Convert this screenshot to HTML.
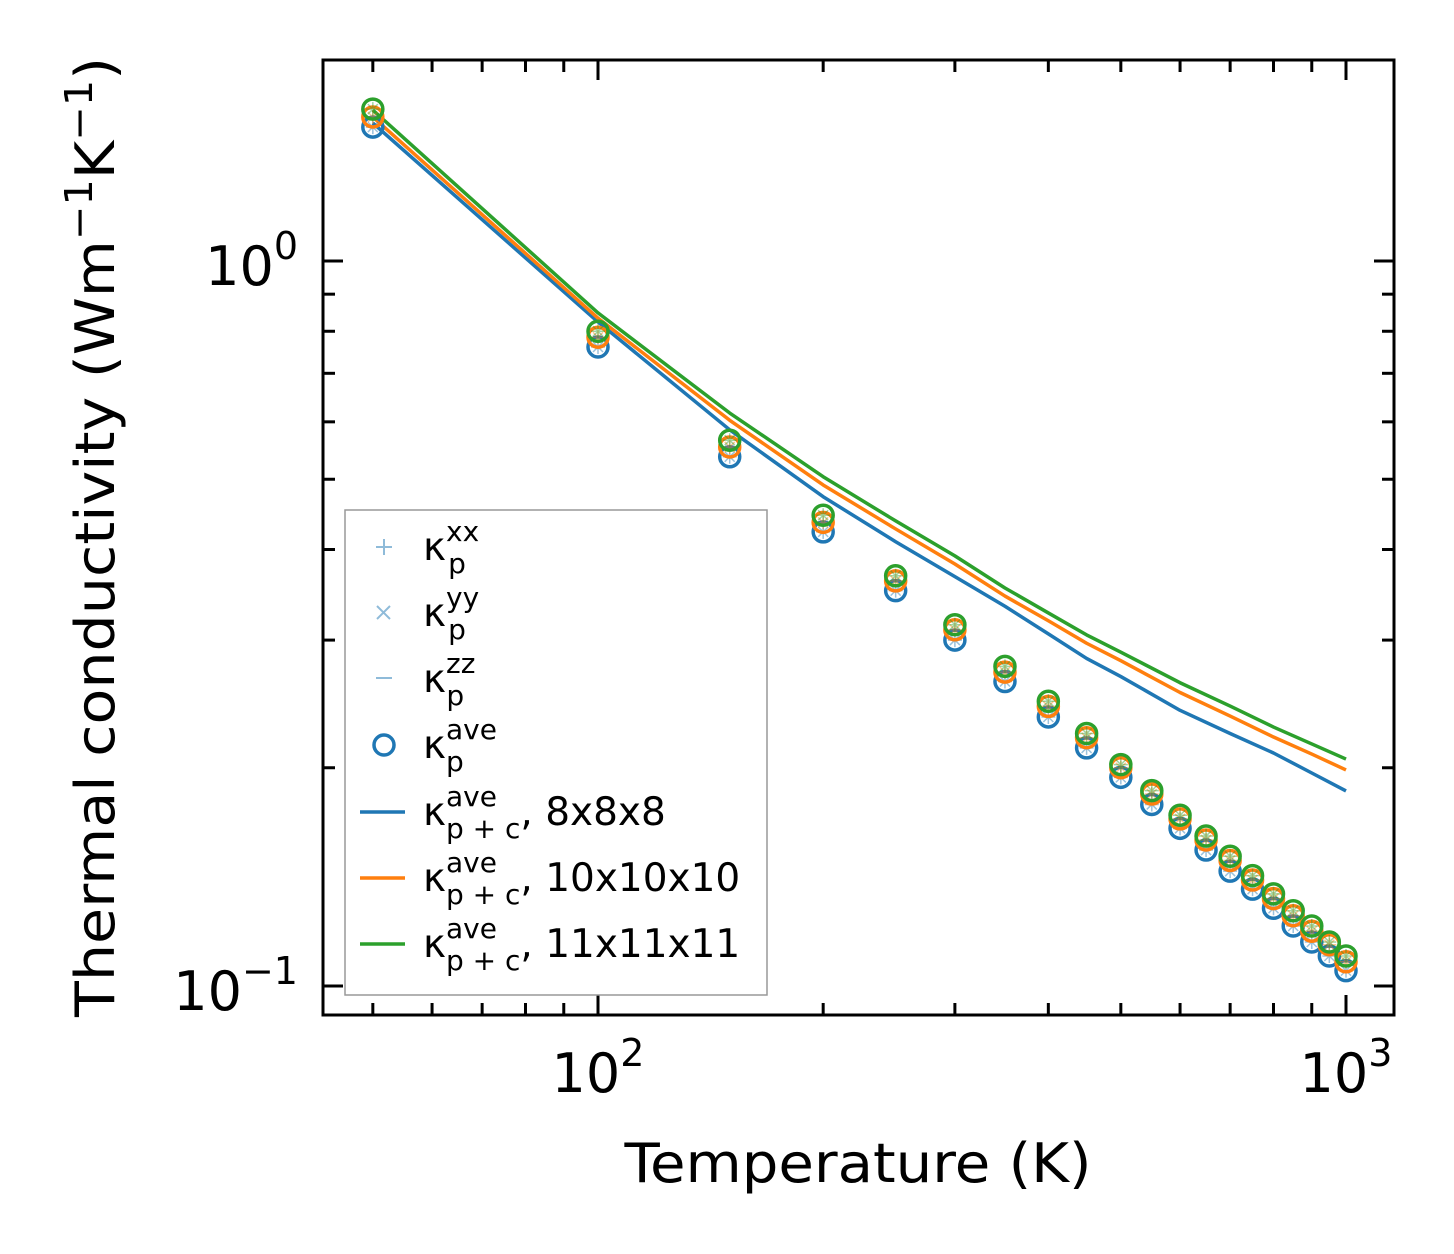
<!DOCTYPE html>
<html><head><meta charset="utf-8"><style>
body{margin:0;background:#fff}
svg{display:block;font-family:"DejaVu Sans","Liberation Sans",sans-serif}
</style></head><body>
<svg id="chart" width="1454" height="1254" viewBox="0 0 1454 1254" xmlns="http://www.w3.org/2000/svg">
<rect width="1454" height="1254" fill="#fff"/>
<g id="marks"></g>
<g id="ticks"></g>
<rect x="323" y="60" width="1071" height="955" fill="none" stroke="#000" stroke-width="3"/>
<text x="298" y="285" font-size="54" text-anchor="end">10<tspan dy="-26" font-size="38">0</tspan></text>
<text x="298" y="1010" font-size="54" text-anchor="end">10<tspan dy="-26" font-size="38">−1</tspan></text>
<text x="598" y="1092" font-size="54" text-anchor="middle">10<tspan dy="-26" font-size="38">2</tspan></text>
<text x="1346" y="1092" font-size="54" text-anchor="middle">10<tspan dy="-26" font-size="38">3</tspan></text>
<text x="858" y="1182" font-size="54" text-anchor="middle" textLength="467" lengthAdjust="spacingAndGlyphs">Temperature (K)</text>
<text transform="translate(114,537) rotate(-90)" font-size="54" text-anchor="middle" textLength="960" lengthAdjust="spacingAndGlyphs">Thermal conductivity (Wm<tspan dy="-22" font-size="38">−1</tspan><tspan dy="22">K</tspan><tspan dy="-22" font-size="38">−1</tspan><tspan dy="22">)</tspan></text>
<g>
<rect x="345" y="510" width="422" height="485" fill="#fff" fill-opacity="0.8" stroke="#999" stroke-width="1.5"/>
<g>
<path d="M376 547h16M384 539v16" stroke="#8fbbd9" stroke-width="2"/>
<text x="423" y="560" font-size="39">κ<tspan dy="-19" font-size="28">xx</tspan><tspan dx="-31" dy="32" font-size="28">p</tspan></text></g>
<g>
<path d="M377 606l13 13M390 606l-13 13" stroke="#8fbbd9" stroke-width="2"/>
<text x="423" y="626" font-size="39">κ<tspan dy="-19" font-size="28">yy</tspan><tspan dx="-31" dy="32" font-size="28">p</tspan></text></g>
<g>
<path d="M376 678h16" stroke="#8fbbd9" stroke-width="2"/>
<text x="423" y="692" font-size="39">κ<tspan dy="-19" font-size="28">zz</tspan><tspan dx="-29" dy="32" font-size="28">p</tspan></text></g>
<g>
<circle cx="384" cy="745" r="10" fill="none" stroke="#1f77b4" stroke-width="3.5"/>
<text x="423" y="758" font-size="39">κ<tspan dy="-19" font-size="28">ave</tspan><tspan dx="-51" dy="32" font-size="28">p</tspan></text></g>
<g>
<path d="M360 812h45" stroke="#1f77b4" stroke-width="3.5"/>
<text x="423" y="825" font-size="39">κ<tspan dy="-19" font-size="28">ave</tspan><tspan dx="-51" dy="32" font-size="28">p + c</tspan><tspan dy="-13">, 8x8x8</tspan></text></g>
<g>
<path d="M360 878h45" stroke="#ff7f0e" stroke-width="3.5"/>
<text x="423" y="891" font-size="39">κ<tspan dy="-19" font-size="28">ave</tspan><tspan dx="-51" dy="32" font-size="28">p + c</tspan><tspan dy="-13">, 10x10x10</tspan></text></g>
<g>
<path d="M360 944h45" stroke="#2ca02c" stroke-width="3.5"/>
<text x="423" y="957" font-size="39">κ<tspan dy="-19" font-size="28">ave</tspan><tspan dx="-51" dy="32" font-size="28">p + c</tspan><tspan dy="-13">, 11x11x11</tspan></text></g>
</g>
</svg>
<script>
const temps = [50,100,150,200,250,300,350,400,450,500,550,600,650,700,750,800,850,900,950,1000];
const aveBlue = [1.53,0.761,0.537,0.423,0.351,0.300,0.263,0.235,0.213,0.194,0.178,0.165,0.154,0.144,0.136,0.128,0.121,0.115,0.110,0.105];
const aveOrange = [1.58,0.785,0.554,0.436,0.362,0.310,0.271,0.243,0.220,0.200,0.184,0.170,0.159,0.149,0.140,0.132,0.125,0.119,0.114,0.108];
const aveGreen = [1.62,0.800,0.566,0.446,0.368,0.315,0.276,0.247,0.223,0.202,0.186,0.172,0.161,0.151,0.142,0.134,0.127,0.121,0.115,0.110];
const lineTemps = [50,100,150,200,250,300,350,400,450,500,600,700,800,900,1000];
const line8 = [1.550,0.824,0.585,0.473,0.410,0.367,0.334,0.306,0.283,0.2672,0.240,0.223,0.2096,0.1967,0.1858];
const line10 = [1.580,0.834,0.603,0.491,0.427,0.382,0.345,0.319,0.297,0.281,0.254,0.2357,0.2205,0.2089,0.1986];
const line11 = [1.615,0.848,0.617,0.504,0.438,0.392,0.354,0.327,0.305,0.2887,0.262,0.2433,0.2276,0.2157,0.2056];
const xMajor = [100,1000];
const xMinor = [50,60,70,80,90,200,300,400,500,600,700,800,900];
const yMajor = [0.1,1];
const yMinor = [0.2,0.3,0.4,0.5,0.6,0.7,0.8,0.9];

const NS = "http://www.w3.org/2000/svg";
const X = t => 598 + 748 * (Math.log10(t) - 2);
const Y = v => 261 - 725 * Math.log10(v);
const marks = document.getElementById('marks');
const ticks = document.getElementById('ticks');
function mk(tag, attrs, parent) {
  const e = document.createElementNS(NS, tag);
  for (const k in attrs) e.setAttribute(k, attrs[k]);
  parent.appendChild(e);
  return e;
}
const series = [[line8, aveBlue, '#1f77b4', '8x8x8'], [line10, aveOrange, '#ff7f0e', '10x10x10'], [line11, aveGreen, '#2ca02c', '11x11x11']];
series.forEach(([ln, av, col, nm]) => {
  const p = mk('polyline', {points: lineTemps.map((t, i) => X(t) + ',' + Y(ln[i])).join(' '), fill: 'none', stroke: col, 'stroke-width': 3.5, 'stroke-linejoin': 'round'}, marks);
  
  
});
series.forEach(([ln, av, col, nm]) => {
  temps.forEach((t, i) => {
    const cx = X(t), cy = Y(av[i]);
    const g = mk('g', {}, marks);
    
    
    mk('path', {d: `M${cx-7} ${cy}h14M${cx} ${cy-7}v14M${cx-5} ${cy-5}l10 10M${cx+5} ${cy-5}l-10 10`, stroke: col, 'stroke-opacity': 0.45, 'stroke-width': 1.5}, g);
    mk('circle', {cx: cx, cy: cy, r: 10, fill: 'none', stroke: col, 'stroke-width': 3.5}, g);
  });
});
function tick(x1, y1, x2, y2, name) {
  const l = mk('line', {x1: x1, y1: y1, x2: x2, y2: y2, stroke: '#000', 'stroke-width': 3}, ticks);
  
  
}
xMajor.forEach(t => { const x = X(t); tick(x, 1015, x, 995, 'x-major-tick'); tick(x, 60, x, 80, 'x-major-tick-top'); });
xMinor.forEach(t => { const x = X(t); tick(x, 1015, x, 1003, 'x-minor-tick'); tick(x, 60, x, 72, 'x-minor-tick-top'); });
yMajor.forEach(v => { const y = Y(v); tick(323, y, 343, y, 'y-major-tick'); tick(1394, y, 1374, y, 'y-major-tick-right'); });
yMinor.forEach(v => { const y = Y(v); if (y < 62 || y > 1013) return; tick(323, y, 335, y, 'y-minor-tick'); tick(1394, y, 1382, y, 'y-minor-tick-right'); });
</script>
</body></html>
